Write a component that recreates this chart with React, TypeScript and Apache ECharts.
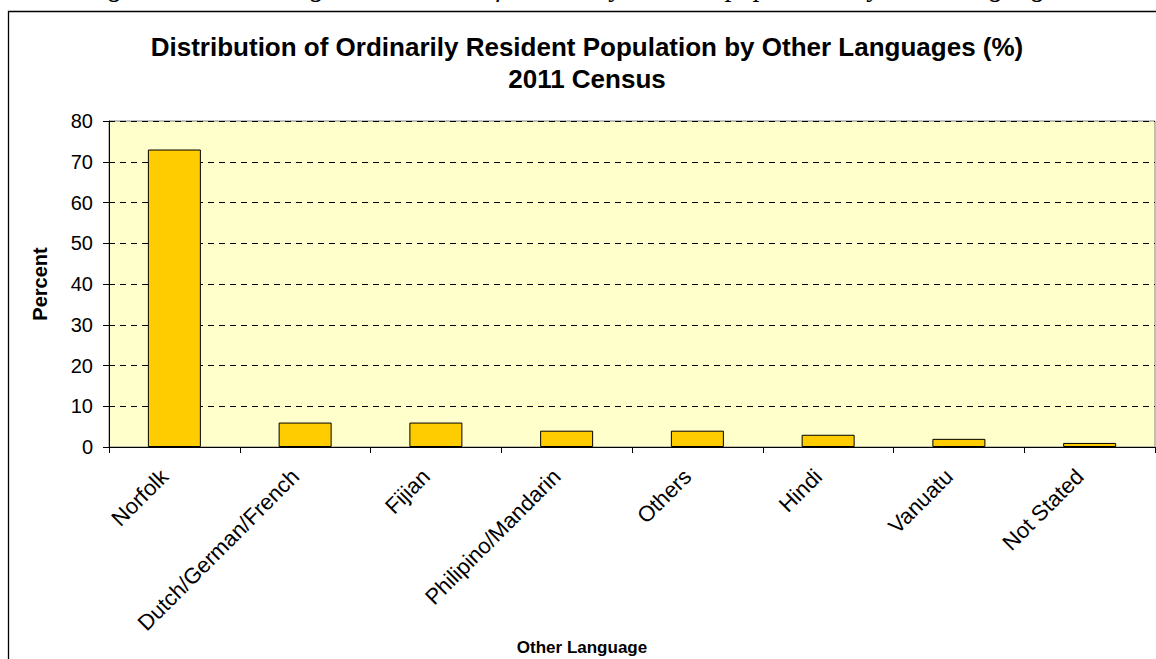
import React, { useEffect, useRef } from "react";
import * as echarts from "echarts";

const categories = [
  "Norfolk",
  "Dutch/German/French",
  "Fijian",
  "Philipino/Mandarin",
  "Others",
  "Hindi",
  "Vanuatu",
  "Not Stated",
];
const percentValues = [73, 6, 6, 4, 4, 3, 2, 1];
const yTicks = { min: 0, max: 80, interval: 10 };
const titleLines = [
  "Distribution of Ordinarily Resident Population by Other Languages (%)",
  "2011 Census",
];
const captionText =
  "Figure 12: Percentage distribution of ordinarily resident population by other languages";
const yAxisName = "Percent";
const xAxisName = "Other Language";

export default function App() {
  const ref = useRef<HTMLDivElement>(null);
  useEffect(() => {
    if (!ref.current) return;
    const chart = echarts.init(ref.current, undefined, { renderer: "svg" });
    const font = "Arial, 'Liberation Sans', sans-serif";
    chart.setOption({
      animation: false,
      backgroundColor: "#ffffff",
      title: {
        text: titleLines.join("\n"),
        left: 582,
        top: 26,
        textAlign: "center",
        textStyle: {
          fontFamily: font,
          fontSize: 26,
          fontWeight: "bold",
          color: "#000",
          lineHeight: 32,
        },
      },
      grid: {
        left: 109,
        right: 1,
        top: 121,
        bottom: 212,
        show: true,
        backgroundColor: "#FFFFCC",
        borderColor: "#808080",
        borderWidth: 1,
      },
      xAxis: {
        type: "category",
        data: categories,
        axisLine: { lineStyle: { color: "#000", width: 1 } },
        axisTick: { show: true, length: 6, interval: 0, lineStyle: { color: "#000" } },
        axisLabel: {
          interval: 0,
          rotate: 45,
          margin: 16,
          padding: [0, 14, 0, 0],
          fontFamily: font,
          fontSize: 22,
          color: "#000",
        },
      },
      yAxis: {
        type: "value",
        min: yTicks.min,
        max: yTicks.max,
        interval: yTicks.interval,
        axisLine: { show: true, lineStyle: { color: "#000", width: 1 } },
        axisTick: { show: true, length: 6, lineStyle: { color: "#000" } },
        axisLabel: { margin: 16, fontFamily: font, fontSize: 20, color: "#000" },
        splitLine: {
          show: true,
          lineStyle: { color: "#000", type: [6, 5], width: 1 },
        },
      },
      series: [
        {
          type: "bar",
          data: percentValues,
          barWidth: 53,
          itemStyle: { color: "#FFCC00", borderColor: "#000", borderWidth: 1 },
        },
      ],
      graphic: [
        {
          type: "rect",
          shape: { x: 8.5, y: 11.5, width: 1300, height: 800 },
          style: { fill: "none", stroke: "#000", lineWidth: 1.3 },
          silent: true,
        },
        {
          type: "text",
          x: 577,
          y: -14,
          style: {
            text: captionText,
            fontFamily: "'Times New Roman', 'Liberation Serif', serif",
            fontStyle: "italic",
            fontSize: 28,
            fill: "#000",
            align: "center",
            verticalAlign: "middle",
          },
        },
        {
          type: "text",
          x: 40,
          y: 284,
          rotation: Math.PI / 2,
          style: {
            text: yAxisName,
            fontFamily: font,
            fontSize: 20,
            fontWeight: "bold",
            fill: "#000",
            align: "center",
            verticalAlign: "middle",
          },
        },
        {
          type: "text",
          x: 582,
          y: 647,
          style: {
            text: xAxisName,
            fontFamily: font,
            fontSize: 17,
            fontWeight: "bold",
            fill: "#000",
            align: "center",
            verticalAlign: "middle",
          },
        },
      ],
    });
    return () => chart.dispose();
  }, []);
  return (
    <div
      ref={ref}
      style={{ position: "fixed", left: 0, top: 0, width: 1156, height: 659 }}
    />
  );
}
